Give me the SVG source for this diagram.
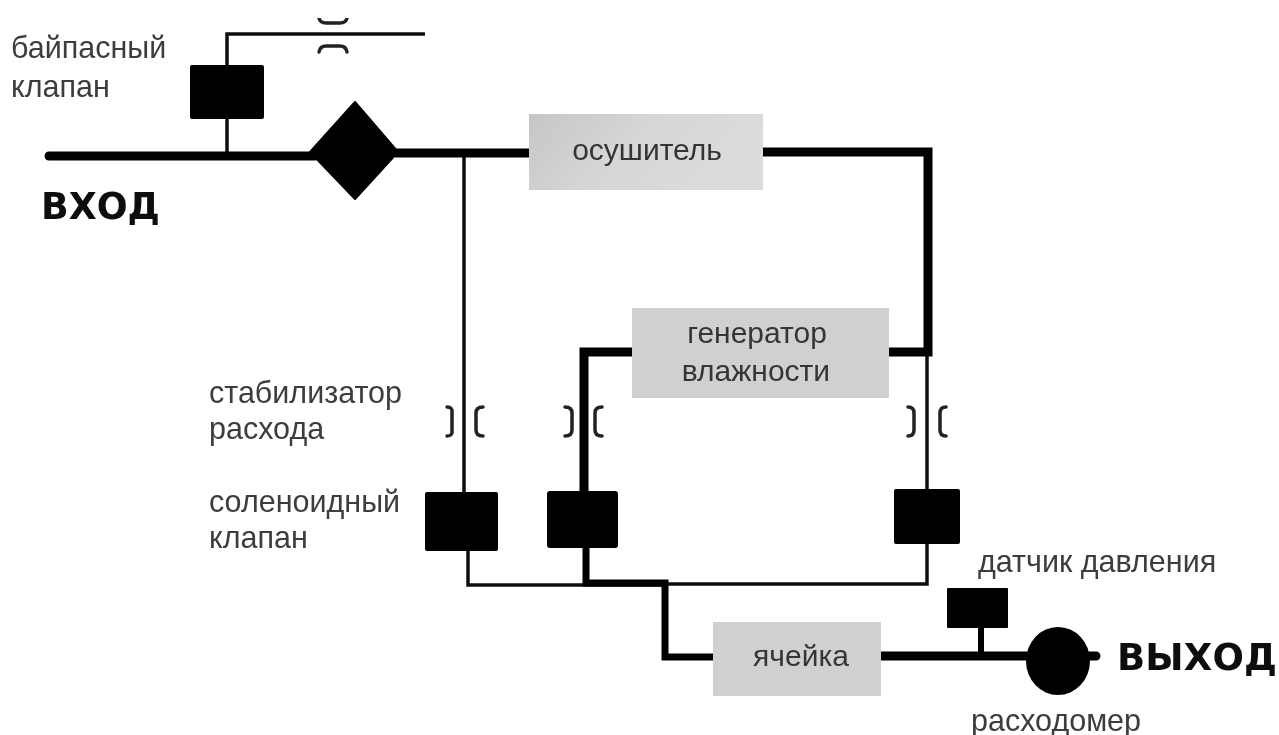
<svg xmlns="http://www.w3.org/2000/svg" width="1279" height="735" viewBox="0 0 1279 735">
<style>
.t{font-family:"Liberation Sans",Arial,sans-serif;font-size:30.5px;fill:#3c3c3c}
.l{font-family:"Liberation Sans",Arial,sans-serif;font-size:30px;fill:#363636;text-anchor:middle}
.b{font-family:"DejaVu Sans",sans-serif;font-size:37px;font-weight:bold;fill:#111}
.thin{fill:none;stroke:#111;stroke-width:3.5}
.thick{fill:none;stroke:#000;stroke-width:9}
.br{fill:none;stroke:#222;stroke-width:3.5;stroke-linecap:round}
.g{fill:#d0d0d0}
.k{fill:#000}
</style>
<defs>
<filter id="soft" x="0" y="0" width="100%" height="100%"><feGaussianBlur stdDeviation="0.7"/></filter>
<linearGradient id="gr1" x1="0" y1="0" x2="1" y2="0.3"><stop offset="0" stop-color="#c6c6c6"/><stop offset="0.5" stop-color="#d6d6d6"/><stop offset="1" stop-color="#dcdcdc"/></linearGradient>
</defs>
<rect width="1279" height="735" fill="#fff"/>
<g filter="url(#soft)">
<g id="connectors">
<path class="thin" d="M227 152V34H425"/>
<path class="thin" d="M464 155V495"/>
<path class="thin" d="M468 550V585H665"/>
<path class="thin" d="M665 584H927V540"/>
<path class="thin" d="M927 352V495"/>
<path class="thick" stroke-linecap="round" d="M49 156H315"/>
<path class="thick" d="M395 153H530"/>
<path class="thick" d="M760 152H928V352H888"/>
<path class="thick" d="M632 352H584V495"/>
<path class="thick" style="stroke-width:7" d="M586 545V583H665V657H715"/>
<path class="thick" d="M880 656H1030"/>
<path class="thick" stroke-linecap="round" d="M1085 656H1096"/>
<path class="thick" style="stroke-width:6" d="M981 625V654"/>
<path class="br" d="M319 18Q320 23 326 23H340Q346 23 347 18"/>
<path class="br" d="M319 52Q320 46 326 46H340Q346 46 347 52"/>
<path class="br" d="M447 407Q453 407 452 413V430Q453 436 447 436"/>
<path class="br" d="M483 407Q476 407 476 413V430Q476 436 483 436"/>
<path class="br" d="M565 407Q572 407 572 413V430Q572 436 565 436"/>
<path class="br" d="M602 407Q595 407 595 413V430Q595 436 602 436"/>
<path class="br" d="M908 407Q914 407 914 413V430Q914 436 908 436"/>
<path class="br" d="M946 407Q940 407 940 413V430Q940 436 946 436"/>
</g>
<g id="bypass"><rect class="k" x="190" y="65" width="74" height="54" rx="2"/><text class="t" x="11" y="58">байпасный</text><text class="t" x="11" y="97">клапан</text></g>
<g id="diamond"><path class="k" d="M355 102L398 152L355 199L310 152Z" stroke="#000" stroke-width="2" stroke-linejoin="round"/></g>
<g id="in"><text class="b" x="41" y="219" textLength="119" lengthAdjust="spacingAndGlyphs">ВХОД</text></g>
<g id="dryer"><rect x="529" y="114" width="234" height="76" fill="url(#gr1)"/><text class="l" x="647" y="160">осушитель</text></g>
<g id="humidifier"><rect class="g" x="632" y="308" width="257" height="90"/><text class="l" x="757" y="343">генератор</text><text class="l" x="756" y="381">влажности</text></g>
<g id="stabilizer"><text class="t" x="209" y="403">стабилизатор</text><text class="t" x="209" y="439">расхода</text></g>
<g id="solenoid1"><rect class="k" x="425" y="492" width="73" height="59" rx="2"/><text class="t" x="209" y="512">соленоидный</text><text class="t" x="209" y="548">клапан</text></g>
<g id="solenoid2"><rect class="k" x="547" y="491" width="71" height="57" rx="3"/></g>
<g id="solenoid3"><rect class="k" x="894" y="489" width="66" height="55" rx="2"/></g>
<g id="cell"><rect class="g" x="713" y="622" width="168" height="74"/><text class="l" x="801" y="666">ячейка</text></g>
<g id="sensor"><rect class="k" x="947" y="588" width="61" height="40" rx="1"/><text class="t" x="978" y="572">датчик давления</text></g>
<g id="meter"><ellipse class="k" cx="1058" cy="661" rx="32" ry="34"/><text class="t" x="971" y="731">расходомер</text></g>
<g id="out"><text class="b" x="1117" y="670" textLength="160" lengthAdjust="spacing">ВЫХОД</text></g>
</g>
</svg>
